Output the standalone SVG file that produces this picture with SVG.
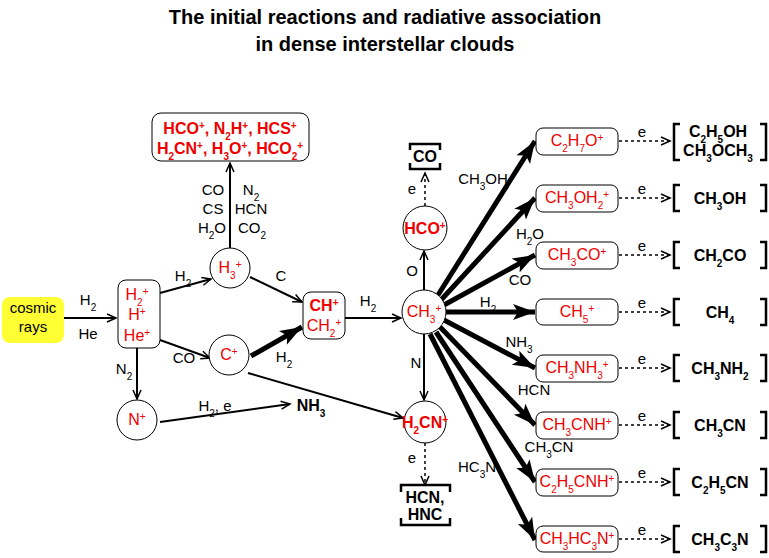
<svg xmlns="http://www.w3.org/2000/svg" width="769" height="558" viewBox="0 0 769 558">
<style>
text{font-family:"Liberation Sans",Arial,sans-serif;font-size:15px;fill:#000;text-anchor:middle}
.t{font-size:20px;font-weight:bold}
.r{fill:#e00;font-size:16px}
.b{font-weight:bold;font-size:16px}
.s{baseline-shift:sub;font-size:10px}
.p{baseline-shift:super;font-size:10px}
.n{fill:#fff;stroke:#000;stroke-width:1}
.l{stroke:#000;stroke-width:2;fill:none}
.k{stroke:#000;stroke-width:5;fill:none}
.d{stroke:#000;stroke-width:1.5;fill:none;stroke-dasharray:3,3}
.br{stroke:#000;stroke-width:2.5;fill:none}
</style>
<defs>
<marker id="o" markerWidth="12" markerHeight="10" refX="10" refY="5" orient="auto" markerUnits="userSpaceOnUse"><path d="M1,1 L10,5 L1,9" fill="none" stroke="#000" stroke-width="1.5"/></marker>
<marker id="f" markerWidth="24" markerHeight="18" refX="22" refY="9" orient="auto" markerUnits="userSpaceOnUse"><path d="M0,1 L22,9 L0,17 L5,9 Z" fill="#000"/></marker>
</defs>
<rect width="769" height="558" fill="#fff"/>
<text class="t" x="385" y="24">The initial reactions and radiative association</text>
<text class="t" x="385" y="51">in dense interstellar clouds</text>

<g id="connectors">
<line class="l" x1="64" y1="318" x2="116" y2="318" marker-end="url(#o)"/>
<line class="l" x1="160" y1="293" x2="211" y2="279" marker-end="url(#o)"/>
<line class="l" x1="160" y1="340" x2="210" y2="358" marker-end="url(#o)"/>
<line class="l" x1="137" y1="348" x2="137" y2="399" marker-end="url(#o)"/>
<line class="l" x1="230" y1="248" x2="230" y2="163" marker-end="url(#o)"/>
<line class="l" x1="250" y1="277" x2="302" y2="302" marker-end="url(#o)"/>
<line class="k" x1="251" y1="356" x2="302" y2="327" marker-end="url(#f)"/>
<line class="l" x1="248" y1="373" x2="403" y2="418" marker-end="url(#o)"/>
<line class="l" x1="160" y1="422" x2="290" y2="404" marker-end="url(#o)"/>
<line class="l" x1="345" y1="318" x2="401" y2="318" marker-end="url(#o)"/>
<line class="l" x1="424" y1="290" x2="424" y2="251" marker-end="url(#o)"/>
<line class="l" x1="424" y1="334" x2="424" y2="400" marker-end="url(#o)"/>
<line class="d" x1="425" y1="206" x2="425" y2="173" marker-end="url(#o)"/>
<line class="d" x1="425" y1="443" x2="425" y2="485" marker-end="url(#o)"/>
<line class="k" x1="438" y1="295" x2="535" y2="141" marker-end="url(#f)"/>
<line class="k" x1="441" y1="300" x2="535" y2="198" marker-end="url(#f)"/>
<line class="k" x1="444" y1="305" x2="535" y2="255" marker-end="url(#f)"/>
<line class="k" x1="446" y1="312" x2="535" y2="312" marker-end="url(#f)"/>
<line class="k" x1="444" y1="320" x2="535" y2="368" marker-end="url(#f)"/>
<line class="k" x1="440" y1="327" x2="535" y2="425" marker-end="url(#f)"/>
<line class="k" x1="436" y1="332" x2="535" y2="482" marker-end="url(#f)"/>
<line class="k" x1="430" y1="334" x2="535" y2="540" marker-end="url(#f)"/>
<g>
<line class="d" x1="619" y1="141" x2="670" y2="141" marker-end="url(#o)"/>
<line class="d" x1="619" y1="198" x2="670" y2="198" marker-end="url(#o)"/>
<line class="d" x1="619" y1="255" x2="670" y2="255" marker-end="url(#o)"/>
<line class="d" x1="619" y1="312" x2="670" y2="312" marker-end="url(#o)"/>
<line class="d" x1="619" y1="368" x2="670" y2="368" marker-end="url(#o)"/>
<line class="d" x1="619" y1="425" x2="670" y2="425" marker-end="url(#o)"/>
<line class="d" x1="619" y1="482" x2="670" y2="482" marker-end="url(#o)"/>
<line class="d" x1="619" y1="539" x2="670" y2="539" marker-end="url(#o)"/>
</g>
</g>

<g id="labels">
<text x="88" y="305">H<tspan class="s">2</tspan></text>
<text x="88" y="339">He</text>
<text x="183" y="281">H<tspan class="s">2</tspan></text>
<text x="184" y="363">CO</text>
<text x="124" y="374">N<tspan class="s">2</tspan></text>
<text x="281" y="281">C</text>
<text x="284" y="362">H<tspan class="s">2</tspan></text>
<text x="215" y="411">H<tspan class="s">2</tspan>, e</text>
<text x="311" y="411" class="b">NH<tspan class="s">3</tspan></text>
<text x="213" y="195">CO</text><text x="251" y="195">N<tspan class="s">2</tspan></text>
<text x="213" y="214">CS</text><text x="251" y="214">HCN</text>
<text x="212" y="233">H<tspan class="s">2</tspan>O</text><text x="252" y="233">CO<tspan class="s">2</tspan></text>
<text x="368" y="306">H<tspan class="s">2</tspan></text>
<text x="412" y="276">O</text>
<text x="416" y="368">N</text>
<text x="412" y="194">e</text>
<text x="412" y="463">e</text>
<text x="483" y="184">CH<tspan class="s">3</tspan>OH</text>
<text x="530" y="239">H<tspan class="s">2</tspan>O</text>
<text x="520" y="285">CO</text>
<text x="488" y="307">H<tspan class="s">2</tspan></text>
<text x="519" y="347">NH<tspan class="s">3</tspan></text>
<text x="534" y="395">HCN</text>
<text x="549" y="452">CH<tspan class="s">3</tspan>CN</text>
<text x="477" y="472">HC<tspan class="s">3</tspan>N</text>
<text x="642" y="137">e</text><text x="642" y="194">e</text><text x="642" y="251">e</text><text x="642" y="308">e</text>
<text x="642" y="364">e</text><text x="642" y="421">e</text><text x="642" y="478">e</text><text x="642" y="535">e</text>
</g>

<g id="cosmic"><rect x="2" y="297" width="62" height="46" rx="8" fill="#ffff33"/><text x="33" y="313">cosmic</text><text x="33" y="332">rays</text></g>
<g id="ions"><rect class="n" x="118" y="280" width="42" height="68" rx="8"/>
<text class="r" x="137" y="300">H<tspan class="s">2</tspan><tspan class="p">+</tspan></text>
<text class="r" x="137" y="320">H<tspan class="p">+</tspan></text>
<text class="r" x="137" y="341">He<tspan class="p">+</tspan></text></g>
<g id="h3"><circle class="n" cx="230" cy="268" r="20"/><text class="r" x="230" y="273">H<tspan class="s">3</tspan><tspan class="p">+</tspan></text></g>
<g id="cp"><circle class="n" cx="229" cy="355" r="20"/><text class="r" x="229" y="360">C<tspan class="p">+</tspan></text></g>
<g id="np"><circle class="n" cx="137" cy="420" r="20"/><text class="r" x="137" y="425">N<tspan class="p">+</tspan></text></g>
<g id="top"><rect class="n" x="152" y="113" width="157" height="48" rx="9"/>
<text class="r b" x="230" y="134">HCO<tspan class="p">+</tspan>, N<tspan class="s">2</tspan>H<tspan class="p">+</tspan>, HCS<tspan class="p">+</tspan></text>
<text class="r b" x="230" y="154">H<tspan class="s">2</tspan>CN<tspan class="p">+</tspan>, H<tspan class="s">3</tspan>O<tspan class="p">+</tspan>, HCO<tspan class="s">2</tspan><tspan class="p">+</tspan></text></g>
<g id="ch"><rect class="n" x="303" y="292" width="42" height="47" rx="8"/>
<text class="r b" x="324" y="311">CH<tspan class="p">+</tspan></text>
<text class="r" x="324" y="331">CH<tspan class="s">2</tspan><tspan class="p">+</tspan></text></g>
<g id="ch3"><circle class="n" cx="424" cy="312" r="22"/><text class="r" x="424" y="317">CH<tspan class="s">3</tspan><tspan class="p">+</tspan></text></g>
<g id="hco"><circle class="n" cx="425" cy="228" r="22"/><text class="r b" x="425" y="234">HCO<tspan class="p">+</tspan></text></g>
<g id="h2cn"><circle class="n" cx="425" cy="422" r="21"/><text class="r b" x="425" y="428">H<tspan class="s">2</tspan>CN<tspan class="p">+</tspan></text></g>
<g id="co"><path class="br" d="M410,150 V144 H440 V150 M410,163 V169 H440 V163"/><text class="b" x="425" y="162">CO</text></g>
<g id="hcn"><path class="br" d="M401,492 V485 H450 V492 M401,518 V525 H450 V518"/><text class="b" x="425" y="503">HCN,</text><text class="b" x="425" y="520">HNC</text></g>

<g id="right">
<g fill="#fff" stroke="#000"><rect x="536" y="128" width="82" height="27" rx="7"/><rect x="536" y="185" width="82" height="27" rx="7"/><rect x="536" y="242" width="82" height="27" rx="7"/><rect x="536" y="299" width="82" height="26" rx="7"/><rect x="536" y="355" width="82" height="27" rx="7"/><rect x="536" y="412" width="82" height="27" rx="7"/><rect x="536" y="469" width="82" height="27" rx="7"/><rect x="536" y="526" width="82" height="26" rx="7"/></g>
<text class="r" x="577" y="146">C<tspan class="s">2</tspan>H<tspan class="s">7</tspan>O<tspan class="p">+</tspan></text>
<text class="r" x="577" y="203">CH<tspan class="s">3</tspan>OH<tspan class="s">2</tspan><tspan class="p">+</tspan></text>
<text class="r" x="577" y="260">CH<tspan class="s">3</tspan>CO<tspan class="p">+</tspan></text>
<text class="r" x="577" y="317">CH<tspan class="s">5</tspan><tspan class="p">+</tspan></text>
<text class="r" x="577" y="373">CH<tspan class="s">3</tspan>NH<tspan class="s">3</tspan><tspan class="p">+</tspan></text>
<text class="r" x="577" y="430">CH<tspan class="s">3</tspan>CNH<tspan class="p">+</tspan></text>
<text class="r" x="577" y="487">C<tspan class="s">2</tspan>H<tspan class="s">5</tspan>CNH<tspan class="p">+</tspan></text>
<text class="r" x="577" y="544">CH<tspan class="s">3</tspan>HC<tspan class="s">3</tspan>N<tspan class="p">+</tspan></text>
</g>
<g id="products">
<path class="br" d="M680,124 H674 V160 H680 M760,124 H766 V160 H760"/>
<text class="b" x="718" y="137">C<tspan class="s">2</tspan>H<tspan class="s">5</tspan>OH</text>
<text class="b" x="718" y="156">CH<tspan class="s">3</tspan>OCH<tspan class="s">3</tspan></text>
<path class="br" d="M680,185 H674 V211 H680 M760,185 H766 V211 H760"/><text class="b" x="720" y="204">CH<tspan class="s">3</tspan>OH</text>
<path class="br" d="M680,242 H674 V268 H680 M760,242 H766 V268 H760"/><text class="b" x="720" y="261">CH<tspan class="s">2</tspan>CO</text>
<path class="br" d="M680,299 H674 V325 H680 M760,299 H766 V325 H760"/><text class="b" x="720" y="318">CH<tspan class="s">4</tspan></text>
<path class="br" d="M680,355 H674 V381 H680 M760,355 H766 V381 H760"/><text class="b" x="720" y="374">CH<tspan class="s">3</tspan>NH<tspan class="s">2</tspan></text>
<path class="br" d="M680,412 H674 V438 H680 M760,412 H766 V438 H760"/><text class="b" x="720" y="431">CH<tspan class="s">3</tspan>CN</text>
<path class="br" d="M680,469 H674 V495 H680 M760,469 H766 V495 H760"/><text class="b" x="720" y="488">C<tspan class="s">2</tspan>H<tspan class="s">5</tspan>CN</text>
<path class="br" d="M680,526 H674 V552 H680 M760,526 H766 V552 H760"/><text class="b" x="720" y="545">CH<tspan class="s">3</tspan>C<tspan class="s">3</tspan>N</text>
</g>
</svg>
